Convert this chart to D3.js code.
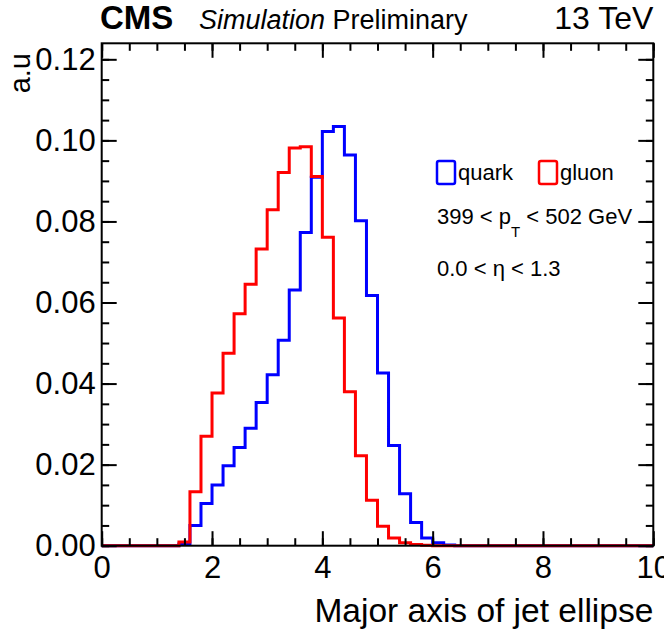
<!DOCTYPE html>
<html>
<head>
<meta charset="utf-8">
<script src="https://cdn.jsdelivr.net/npm/d3@7"></script>
<style>
  body { margin: 0; background: #fff; }
  svg { display: block; font-family: 'Liberation Sans', Arial, Helvetica, sans-serif; }
</style>
</head>
<body>
<svg id="chart" width="664" height="635"></svg>
<script>
// bins of 0.2 from 0 to 10 (lower edges)
const binLow = d3.range(50).map(i => +(i * 0.2).toFixed(1));
const binWidth = 0.2;

const quark = [
  0, 0, 0, 0, 0, 0, 0, 0.0004, 0.0050, 0.0104,
  0.0150, 0.0197, 0.0242, 0.0290, 0.0353, 0.0422, 0.0507, 0.0631, 0.0773, 0.0909,
  0.1022, 0.1034, 0.0964, 0.0802, 0.0617, 0.0426, 0.0247, 0.0128, 0.0057, 0.0019,
  0.0007, 0.0002, 0, 0, 0, 0, 0, 0, 0, 0,
  0, 0, 0, 0, 0, 0, 0, 0, 0, 0
];
const gluon = [
  0, 0, 0, 0, 0, 0, 0, 0.0009, 0.0133, 0.0270,
  0.0377, 0.0475, 0.0572, 0.0645, 0.0732, 0.0829, 0.0921, 0.0981, 0.0984, 0.0911,
  0.0761, 0.0562, 0.0380, 0.0222, 0.0112, 0.0048, 0.0019, 0.0007, 0.0003, 0.0001,
  0, 0, 0, 0, 0, 0, 0, 0, 0, 0,
  0, 0, 0, 0, 0, 0, 0, 0, 0, 0
];

const xMajor = [0, 2, 4, 6, 8, 10];
const xMinor = d3.range(0, 10.01, 0.5);
const yMajor = [0, 0.02, 0.04, 0.06, 0.08, 0.1, 0.12];
const yMinor = d3.range(0, 0.1236, 0.005);

const plotL = 101.7, plotR = 653.3, plotT = 43.3, plotB = 545.7;

const svg = d3.select('#chart');

const x = d3.scaleLinear().domain([0, 10]).range([plotL, plotR]);
const y = d3.scaleLinear().domain([0, 0.12395]).range([plotB, plotT]);

// histograms as step outlines
function stepLine(vals) {
  const pts = [[x(0), y(0)]];
  vals.forEach((v, i) => {
    pts.push([x(binLow[i]), y(v)]);
    pts.push([x(binLow[i] + binWidth), y(v)]);
  });
  pts.push([x(10), y(0)]);
  return d3.line()(pts);
}

svg.append('path')
  .attr('d', stepLine(quark))
  .attr('fill', 'none')
  .attr('stroke', '#0000ff')
  .attr('stroke-width', 3);

svg.append('path')
  .attr('d', stepLine(gluon))
  .attr('fill', 'none')
  .attr('stroke', '#ff0000')
  .attr('stroke-width', 3);

// axes, ticks pointing inward
function tickAxis(axis, g, vals, size, fmt, pad) {
  g.call(axis.tickValues(vals).tickSize(-size).tickPadding(pad).tickFormat(fmt));
  g.select('.domain').remove();
  g.selectAll('line').attr('stroke', '#000').attr('stroke-width', 2);
}

const none = () => '';

const gxMinor = svg.append('g').attr('transform', `translate(0,${plotB})`);
tickAxis(d3.axisBottom(x), gxMinor, xMinor, 7.5, none, 0);
const gx = svg.append('g').attr('transform', `translate(0,${plotB})`);
tickAxis(d3.axisBottom(x), gx, xMajor, 14.5, d3.format('d'), 10);

const gtMinor = svg.append('g').attr('transform', `translate(0,${plotT})`);
tickAxis(d3.axisTop(x), gtMinor, xMinor, 7.5, none, 0);
const gt = svg.append('g').attr('transform', `translate(0,${plotT})`);
tickAxis(d3.axisTop(x), gt, xMajor, 14.5, none, 0);

const gyMinor = svg.append('g').attr('transform', `translate(${plotL},0)`);
tickAxis(d3.axisLeft(y), gyMinor, yMinor, 7.5, none, 0);
const gy = svg.append('g').attr('transform', `translate(${plotL},0)`);
tickAxis(d3.axisLeft(y), gy, yMajor, 15, d3.format('.2f'), 6);

const grMinor = svg.append('g').attr('transform', `translate(${plotR},0)`);
tickAxis(d3.axisRight(y), grMinor, yMinor, 7.5, none, 0);
const gr = svg.append('g').attr('transform', `translate(${plotR},0)`);
tickAxis(d3.axisRight(y), gr, yMajor, 15, none, 0);

svg.selectAll('.tick text')
  .attr('fill', '#000')
  .style('font-size', '31px')
  .style('font-family', "'Liberation Sans', Arial, sans-serif");

// frame
svg.append('rect')
  .attr('x', plotL).attr('y', plotT)
  .attr('width', plotR - plotL).attr('height', plotB - plotT)
  .attr('fill', 'none')
  .attr('stroke', '#000')
  .attr('stroke-width', 2);

// axis titles
svg.append('text')
  .attr('x', plotR).attr('y', 622)
  .attr('text-anchor', 'end')
  .style('font-size', '33.5px')
  .text('Major axis of jet ellipse');

svg.append('text')
  .attr('transform', 'translate(30,53) rotate(-90)')
  .attr('text-anchor', 'end')
  .style('font-size', '29px')
  .text('a.u');

// header
svg.append('text')
  .attr('x', 100).attr('y', 29)
  .style('font-size', '33px')
  .style('font-weight', 'bold')
  .text('CMS');

const hdr = svg.append('text')
  .attr('x', 199).attr('y', 29)
  .style('font-size', '27px');
hdr.append('tspan').style('font-style', 'italic').text('Simulation');
hdr.append('tspan').text(' Preliminary');

svg.append('text')
  .attr('x', plotR).attr('y', 29)
  .attr('text-anchor', 'end')
  .style('font-size', '32px')
  .text('13 TeV');

// legend
const legend = [
  { name: 'quark', color: '#0000ff', x: 437 },
  { name: 'gluon', color: '#ff0000', x: 539 }
];
legend.forEach(d => {
  svg.append('rect')
    .attr('x', d.x).attr('y', 161)
    .attr('width', 18).attr('height', 23)
    .attr('rx', 2)
    .attr('fill', 'none')
    .attr('stroke', d.color)
    .attr('stroke-width', 2.5);
  svg.append('text')
    .attr('x', d.x + 21).attr('y', 180)
    .style('font-size', '22px')
    .text(d.name);
});

const pt = svg.append('text')
  .attr('x', 437).attr('y', 224)
  .style('font-size', '22px');
pt.append('tspan').text('399 < p');
pt.append('tspan').attr('dy', 13).style('font-size', '15px').text('T');
pt.append('tspan').attr('dy', -13).text(' < 502 GeV');

svg.append('text')
  .attr('x', 437).attr('y', 276)
  .style('font-size', '22px')
  .text('0.0 < \u03b7 < 1.3');
</script>
</body>
</html>
